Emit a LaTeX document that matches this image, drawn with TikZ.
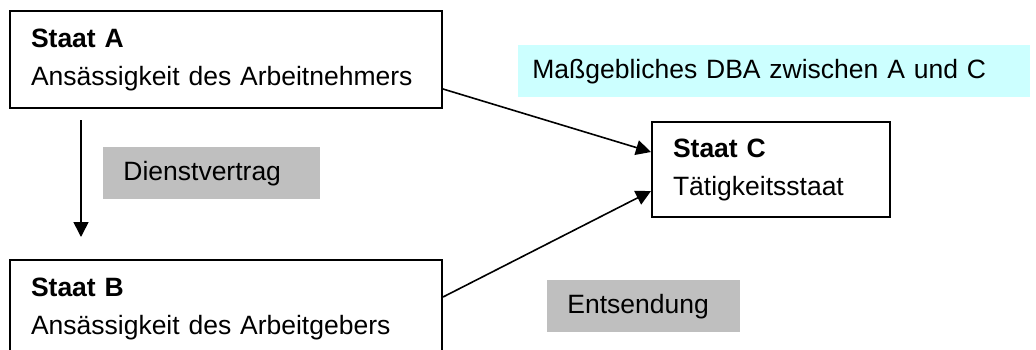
\documentclass[tikz,border=0pt]{standalone}
\usepackage{fontspec}
\setmainfont{Liberation Sans}
\usepackage{tikz}
\usetikzlibrary{arrows.meta}
\tikzset{land/.style = {draw, line width = 1pt, anchor = north west, align = left,
    inner xsep = 10.5pt, inner ysep = 0, font = \fontsize{13.25}{19}\selectfont}}
\tikzset{etikett/.style = {anchor = north west, align = left, inner xsep = 10pt,
    inner ysep = 0, minimum height = 26pt, font = \fontsize{13.25}{19}\selectfont}}
\tikzset{pfeil/.style = {line width = 0.8pt, -{Triangle[length = 7.5pt, width = 7.5pt]}}}
\definecolor{mgrey}{rgb}{0.75, 0.75, 0.75}
\definecolor{mcyan}{rgb}{0.8, 1, 1}

\begin{document}
\begin{tikzpicture}[x = 0.5pt, y = -0.5pt]
        \useasboundingbox (0, 0) rectangle (1036, 349);
        \clip (0, 0) rectangle (1036, 349);
        % Staaten
        \node [land, text width = 195pt, minimum height = 48.5pt] (staatA) at (9, 10)
          {\textbf{Staat A}\\Ansässigkeit des Arbeitnehmers};
        \node [land, text width = 195pt, minimum height = 48.5pt] (staatB) at (9, 259)
          {\textbf{Staat B}\\Ansässigkeit des Arbeitgebers};
        \node [land, text width = 98pt, minimum height = 47.5pt] (staatC) at (651, 121)
          {\textbf{Staat C}\\Tätigkeitsstaat};
        % Beschriftungen
        \node [etikett, fill = mgrey, text width = 88.5pt] (dienst) at (103, 147) {Dienstvertrag};
        \node [etikett, fill = mgrey, text width = 76.5pt] (entsend) at (547, 280) {Entsendung};
        \node [etikett, fill = mcyan, inner xsep = 7pt, text width = 242pt] (dba) at (518, 45)
          {Maßgebliches DBA zwischen A und C};
        % Pfeile
        \coordinate (obenAB) at ([shift = {(36pt, -5.5pt)}] staatA.south west);
        \coordinate (untenAB) at ([shift = {(36pt, 11pt)}] staatB.north west);
        \draw [pfeil] (obenAB) -- (untenAB);
        \draw [pfeil] ([yshift = -14.75pt] staatA.east) -- ([yshift = 8.75pt] staatC.west);
        \draw [pfeil] ([yshift = 5.75pt] staatB.east) -- ([yshift = -10.75pt] staatC.west);
      \end{tikzpicture}
\end{document}
